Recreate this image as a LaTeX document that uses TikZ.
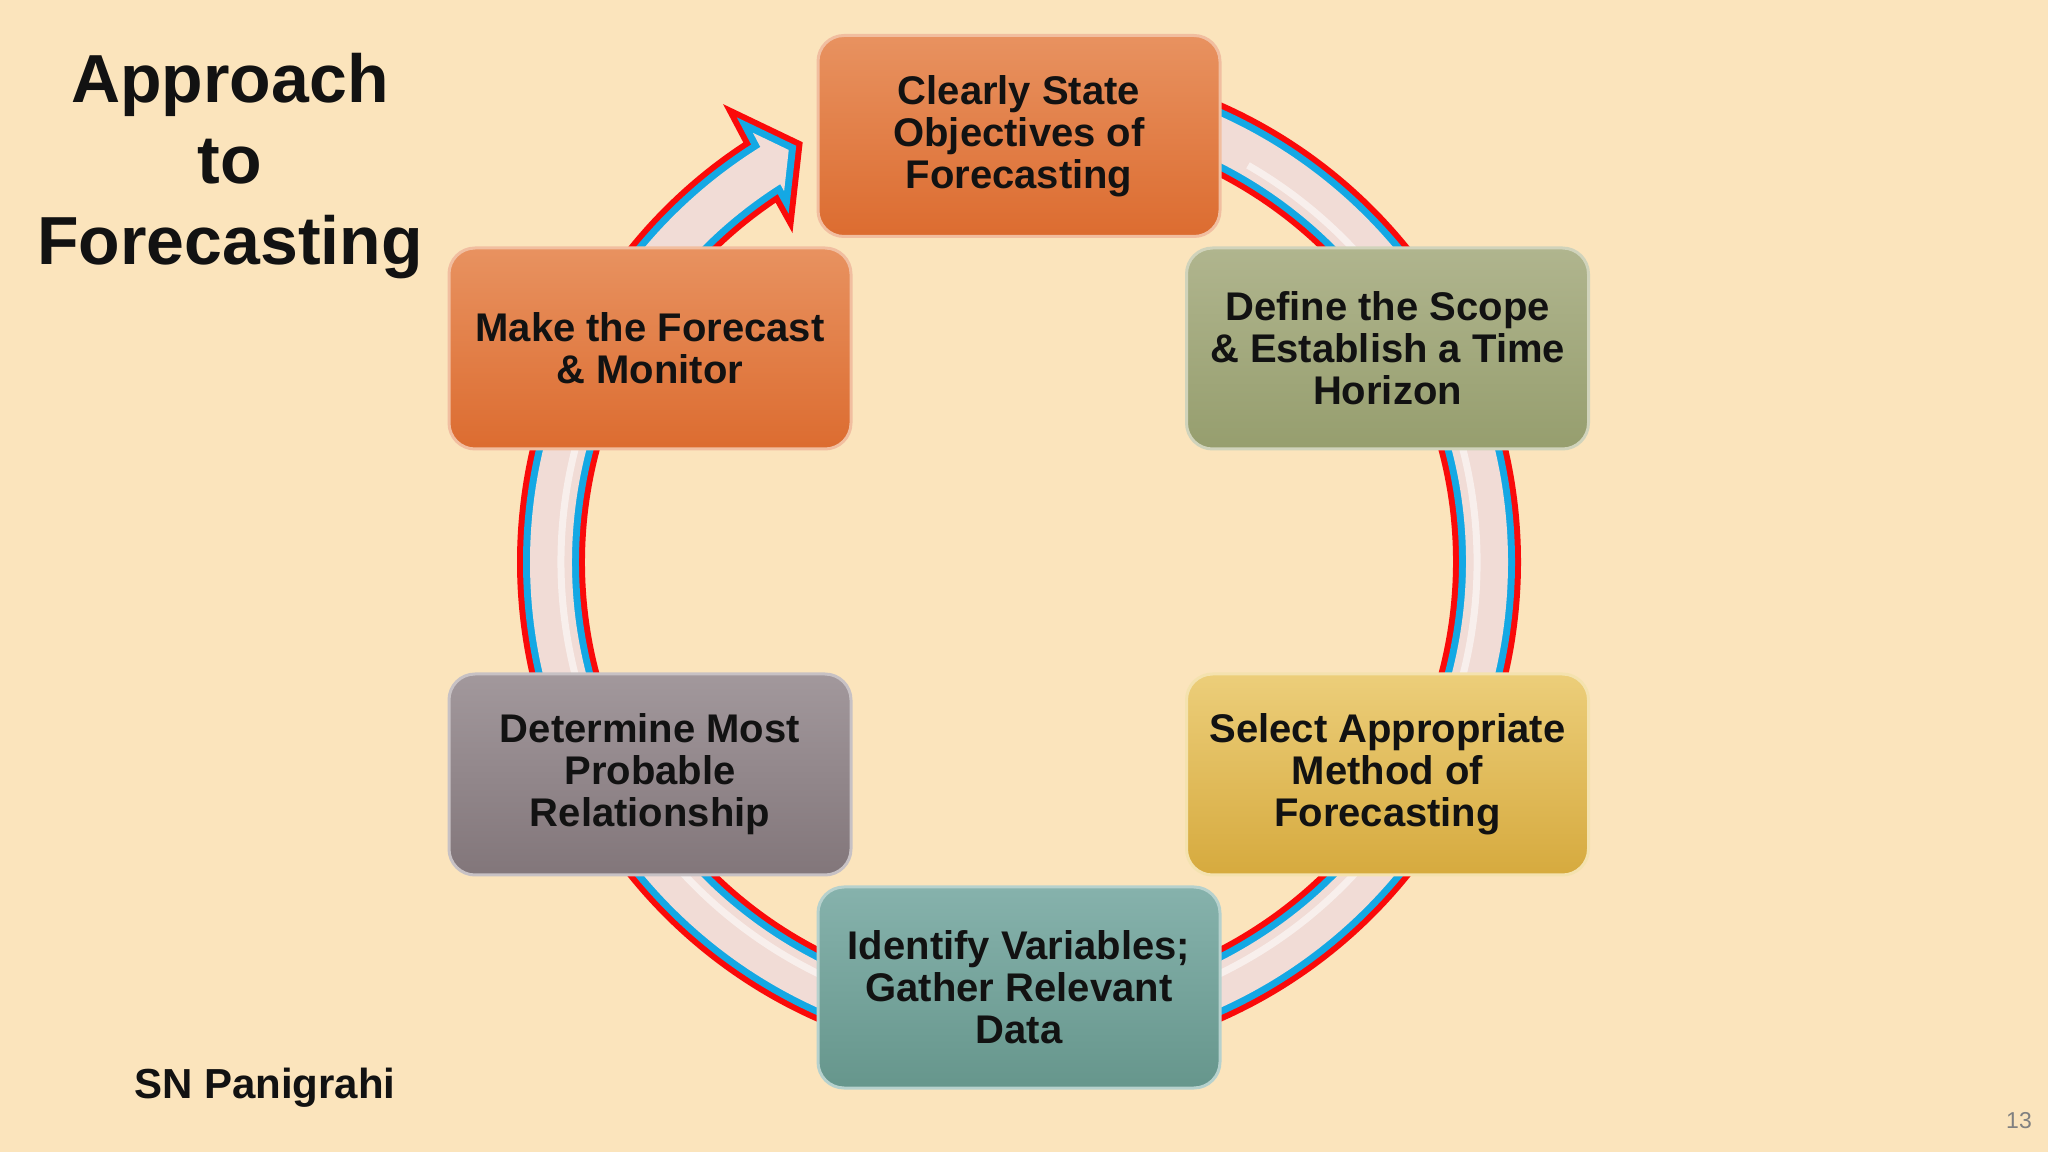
\documentclass[tikz,border=0pt]{standalone}
\usepackage{fontspec}
\setmainfont{Liberation Sans}
\definecolor{bg}{RGB}{251,228,188}
\definecolor{ringred}{RGB}{250,10,10}
\definecolor{ringblue}{RGB}{20,168,228}
\definecolor{ringpink}{RGB}{241,220,214}
\definecolor{txt}{RGB}{18,18,18}
\definecolor{orT}{RGB}{232,146,96}
\definecolor{orB}{RGB}{220,108,48}
\definecolor{olT}{RGB}{176,181,142}
\definecolor{olB}{RGB}{150,158,110}
\definecolor{goT}{RGB}{236,206,122}
\definecolor{goB}{RGB}{214,170,62}
\definecolor{teT}{RGB}{134,178,172}
\definecolor{teB}{RGB}{102,150,140}
\definecolor{maT}{RGB}{162,152,156}
\definecolor{maB}{RGB}{130,118,122}
\begin{document}
\begin{tikzpicture}[x=1pt,y=1pt,
  box/.style={rounded corners=26pt, minimum width=402pt, minimum height=201pt,
    inner sep=4pt, align=center, text=txt, line width=3pt,
    font=\fontsize{40}{42}\selectfont\bfseries},
  orbox/.style={box, top color=orT, bottom color=orB, draw=orT!60!white},
  olbox/.style={box, top color=olT, bottom color=olB, draw=olT!60!white},
  gobox/.style={box, top color=goT, bottom color=goB, draw=goT!60!white},
  tebox/.style={box, top color=teT, bottom color=teB, draw=teT!60!white},
  mabox/.style={box, top color=maT, bottom color=maB, draw=maT!60!white}]
\fill[bg] (0,0) rectangle (2048,1152);
\useasboundingbox (0,0) rectangle (2048,1152);

% circular arrow
\begin{scope}[shift={(1019,590)}]
  \path[preaction={draw=ringred, line width=26pt},
        preaction={draw=ringblue, line width=14pt},
        fill=ringpink]
    (90:489) arc[start angle=90, end angle=-238.07, radius=489]
    -- (121.8:505) -- (119.2:472) -- (122.35:439) -- (122.29:447)
    arc[start angle=122.29, end angle=450, radius=447] -- cycle;
  \draw[white, opacity=0.55, line width=7pt]
    (60:458) arc[start angle=60, end angle=-200, radius=458];
\end{scope}

% title
\node[font=\fontsize{68}{81}\selectfont\bfseries, align=center, text=txt] (title)
  at (230,986) {Approach\\to\\Forecasting};

% steps
\node[orbox] (s1) at (1019,1016) {Clearly State\\Objectives of\\Forecasting};
\node[olbox] (s2) at (1387.5,803.5) {Define the Scope\\\& Establish a Time\\Horizon};
\node[gobox] (s3) at (1387.5,377.5) {Select Appropriate\\Method of\\Forecasting};
\node[tebox] (s4) at (1019,164.5) {Identify Variables;\\Gather Relevant\\Data};
\node[mabox] (s5) at (650,377.5) {Determine Most\\Probable\\Relationship};
\node[orbox] (s6) at (650,803.5) {Make the Forecast\\\& Monitor};

% author and page number
\node[font=\fontsize{42}{46}\selectfont\bfseries, text=txt] (author) at (265,64) {SN Panigrahi};
\node[font=\fontsize{23}{26}\selectfont, text=black!50] (page) at (2019,31) {13};
\end{tikzpicture}
\end{document}
